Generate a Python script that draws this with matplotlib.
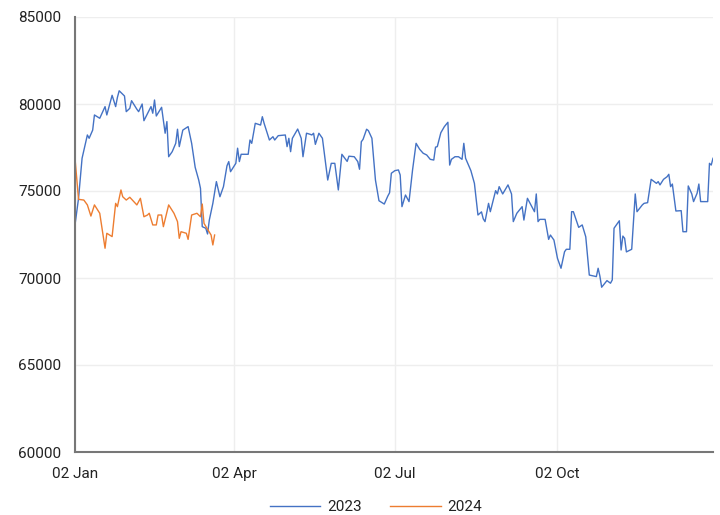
import numpy as np
import pandas as pd
import matplotlib
matplotlib.use("Agg")
from matplotlib import pyplot as plt
import matplotlib.dates as mdates

# days since 02 Jan, closing level
days_2023 = [0, 2, 4, 7, 8, 10, 11, 14, 17, 18, 21, 23, 24, 25, 28, 29, 31, 32, 35, 36,
             38, 39, 43, 44, 45, 46, 49, 51, 52, 53, 55, 57, 58, 59, 61, 64, 65, 66, 68, 70,
             71, 72, 74, 75, 76, 78, 80, 82, 84, 86, 87, 88, 91, 92, 93, 94, 98, 99, 100, 102,
             105, 106, 107, 110, 112, 113, 115, 119, 120, 121, 122, 123, 126, 128, 129, 131, 133, 134, 135, 136,
             138, 140, 143, 145, 147, 149, 151, 154, 155, 158, 160, 161, 162, 163, 165, 166, 168, 170, 172, 175,
             177, 178, 179, 181, 183, 184, 185, 187, 189, 191, 193, 195, 197, 199, 201, 203, 204, 205, 207, 209,
             211, 212, 213, 215, 217, 219, 220, 221, 224, 226, 228, 230, 231, 232, 234, 235, 238, 239, 240, 242,
             245, 247, 248, 250, 253, 254, 256, 260, 261, 262, 263, 266, 268, 269, 271, 273, 275, 277, 278, 280,
             281, 282, 285, 287, 289, 291, 295, 296, 297, 298, 301, 303, 304, 305, 308, 309, 310, 311, 312, 315,
             317, 318, 321, 322, 324, 326, 329, 330, 331, 333, 335, 336, 337, 338, 340, 343, 344, 346, 347, 349,
             350, 352, 353, 354, 358, 359, 360, 361]
close_2023 = [73050, 74580, 76880, 78220, 78030, 78500, 79370, 79180, 79850, 79370, 80500, 79850, 80380, 80760, 80460, 79560, 79750, 80190, 79700, 79560,
              80000, 79040, 79850, 79470, 80230, 79310, 79810, 78320, 78990, 76970, 77260, 77740, 78550, 77550, 78500, 78700, 78220, 77740, 76360, 75630,
              75150, 72950, 72860, 72530, 73330, 74290, 75540, 74670, 75250, 76450, 76690, 76110, 76590, 77460, 76690, 77110, 77110, 77930, 77740, 78890,
              78790, 79270, 78890, 77930, 78120, 77930, 78180, 78220, 77550, 78030, 77260, 78030, 78560, 78030, 76970, 78320, 78260, 78220, 78320, 77680,
              78320, 78030, 75630, 76590, 76590, 75060, 77110, 76700, 77000, 76970, 76690, 76250, 77830, 77970, 78550, 78470, 78030, 75630, 74440, 74250,
              74710, 74900, 76020, 76170, 76210, 75920, 74100, 74770, 74390, 76210, 77740, 77400, 77170, 77070, 76820, 76780, 77520, 77550, 78350, 78700,
              78950, 76490, 76820, 76970, 76970, 76820, 77740, 76880, 76170, 75440, 73620, 73800, 73400, 73240, 74290, 73810, 75020, 74830, 75250, 74830,
              75350, 74830, 73240, 73720, 74100, 73330, 74580, 73810, 74830, 73240, 73370, 73370, 72220, 72470, 72180, 71130, 70560, 71510, 71650, 71650,
              73810, 73810, 72910, 73050, 72370, 70170, 70080, 70560, 70110, 69470, 69850, 69700, 69890, 72860, 73290, 71610, 72410, 72280, 71500, 71650,
              74830, 73810, 74200, 74290, 74330, 75670, 75440, 75540, 75350, 75670, 75820, 75960, 75250, 75400, 73850, 73870, 72660, 72660, 75290, 74830,
              74390, 74870, 75400, 74390, 74390, 76590, 76490, 76880]

days_2024 = [0, 2, 5, 7, 9, 11, 14, 15, 17, 18, 21, 23, 24, 26, 27, 29, 31, 35, 37, 39,
             41, 42, 44, 46, 47, 49, 50, 53, 56, 58, 59, 60, 63, 64, 66, 69, 71, 72, 73, 75,
             77, 78, 79]
close_2024 = [76880, 74520, 74480, 74200, 73560, 74200, 73720, 73050, 71710, 72570, 72380, 74290, 74100, 75060, 74670, 74480, 74640, 74200, 74580, 73520,
              73620, 73720, 73050, 73050, 73620, 73620, 72950, 74200, 73720, 73240, 72280, 72660, 72570, 72220, 73620, 73720, 73520, 74250, 73140, 72800,
              72470, 71900, 72470]

tick_dates = ["2023-01-02", "2023-04-02", "2023-07-02", "2023-10-02"]
y_ticks = [60000, 65000, 70000, 75000, 80000, 85000]
series_names = ["2023", "2024"]
colors = ["#4472c4", "#ed7d31"]

plt.rcParams["font.family"] = ["Roboto", "DejaVu Sans"]

start = pd.Timestamp("2023-01-02")
x23 = start + pd.to_timedelta(days_2023, unit="D")
x24 = start + pd.to_timedelta(days_2024, unit="D")

fig = plt.figure(figsize=(7.2, 5.15), dpi=100)
ax = fig.add_axes([75 / 720, 1 - 452 / 515, 638 / 720, 435 / 515])

l1, = ax.plot(x23, close_2023, color=colors[0], lw=1.0)
l2, = ax.plot(x24, close_2024, color=colors[1], lw=1.0)

ax.set_xlim(start, start + pd.Timedelta(days=361))
ax.set_ylim(60000, 85000)
ax.set_yticks(y_ticks)
ax.set_xticks(pd.to_datetime(tick_dates))
ax.xaxis.set_major_formatter(mdates.DateFormatter("%d %b"))

ax.grid(True, color="#eeeeee", lw=1.0)
ax.set_axisbelow(True)
for side in ["top", "right"]:
    ax.spines[side].set_visible(False)
for side in ["left", "bottom"]:
    ax.spines[side].set_color("#777777")
    ax.spines[side].set_linewidth(1.5)
ax.tick_params(axis="both", length=0, labelsize=11, labelcolor="#222222")
ax.tick_params(axis="y", pad=10)
ax.tick_params(axis="x", pad=11)

fig.legend([l1, l2], series_names, loc="center", bbox_to_anchor=(376 / 720, 1 - 507 / 515),
           ncol=2, frameon=False, fontsize=11, handlelength=3.3, handletextpad=0.45,
           columnspacing=1.9, labelcolor="#222222")

fig.savefig("out.png", dpi=100)
